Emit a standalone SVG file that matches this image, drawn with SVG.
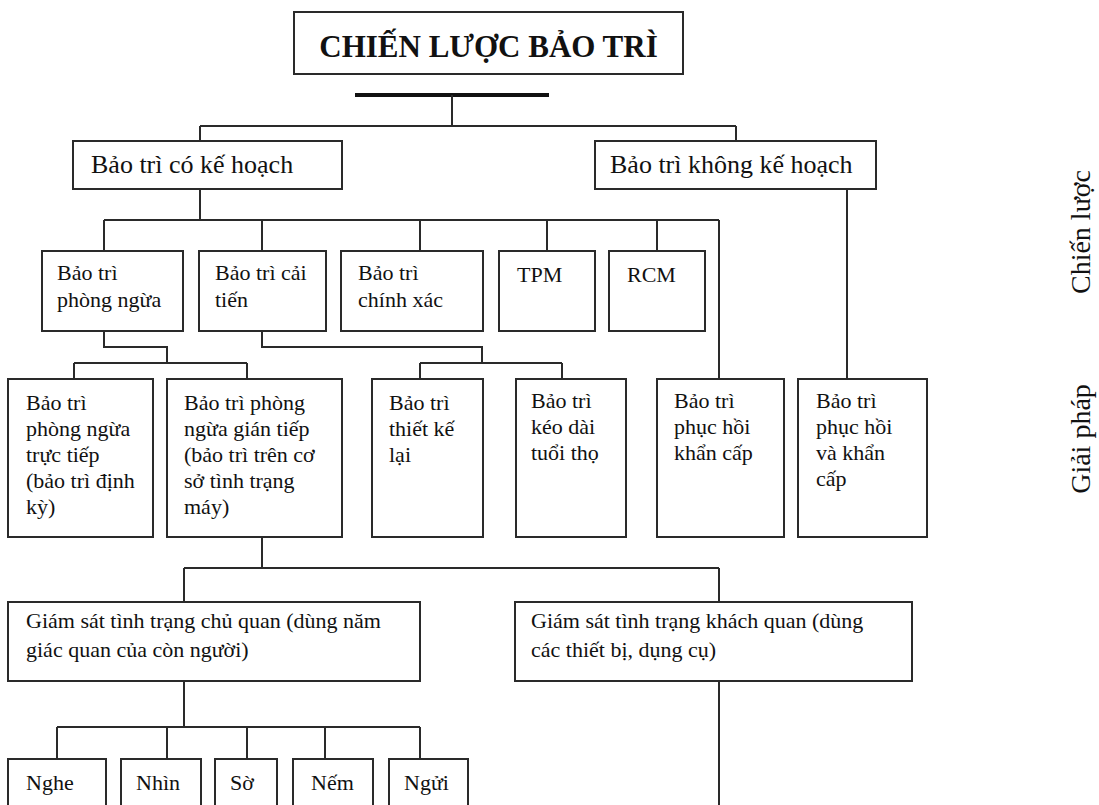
<svg xmlns="http://www.w3.org/2000/svg" width="1099" height="805" viewBox="0 0 1099 805">
<style>
  .box { fill: #ffffff; stroke: #2a2a2a; stroke-width: 2; }
  .ln { fill: none; stroke: #2a2a2a; stroke-width: 2; }
  .t { font-family: "Liberation Serif", "Times New Roman", serif; font-size: 22px; fill: #111; }
  .t1 { font-family: "Liberation Serif", "Times New Roman", serif; font-size: 26px; fill: #111; }
  .title { font-family: "Liberation Serif", "Times New Roman", serif; font-size: 31px; font-weight: bold; fill: #111; }
  .side { font-family: "Liberation Serif", "Times New Roman", serif; font-size: 28px; fill: #111; }
</style>
<rect width="1099" height="805" fill="#ffffff"/>

<g id="connectors">
  <line x1="355" y1="95" x2="549" y2="95" stroke="#111" stroke-width="4"/>
  <path class="ln" d="M452 95 V126 M200 126 H736 M200 126 V141 M736 126 V141"/>
  <path class="ln" d="M200 189 V220 M104 220 H719 M104 220 V251 M262 220 V251 M420 220 V251 M547 220 V251 M657 220 V251 M719 220 V379"/>
  <path class="ln" d="M847 189 V379"/>
  <path class="ln" d="M104 331 V347 H167 V363 M74 363 H247 M74 363 V379 M247 363 V379"/>
  <path class="ln" d="M262 331 V347 H482 V363 M420 363 H562 M420 363 V379 M562 363 V379"/>
  <path class="ln" d="M262 537 V568 M184 568 H719 M184 568 V602 M719 568 V602"/>
  <path class="ln" d="M719 681 V805"/>
  <path class="ln" d="M184 681 V727 M57 727 H420 M57 727 V759 M167 727 V759 M247 727 V759 M325 727 V759 M420 727 V759"/>
</g>

<g id="title">
  <rect class="box" x="294" y="12" width="389" height="62"/>
  <text class="title" x="488.5" y="57" text-anchor="middle">CHIẾN LƯỢC BẢO TRÌ</text>
</g>

<g id="planned">
  <rect class="box" x="73" y="141" width="269" height="48"/>
  <text class="t1" x="91" y="173">Bảo trì có kế hoạch</text>
</g>
<g id="unplanned">
  <rect class="box" x="595" y="141" width="281" height="48"/>
  <text class="t1" x="610" y="173">Bảo trì không kế hoạch</text>
</g>

<g id="preventive">
  <rect class="box" x="42" y="251" width="141" height="80"/>
  <text class="t" x="57" y="280">Bảo trì</text>
  <text class="t" x="57" y="307">phòng ngừa</text>
</g>
<g id="improvement">
  <rect class="box" x="199" y="251" width="127" height="80"/>
  <text class="t" x="215" y="280">Bảo trì cải</text>
  <text class="t" x="215" y="307">tiến</text>
</g>
<g id="precision">
  <rect class="box" x="341" y="251" width="142" height="80"/>
  <text class="t" x="358" y="280">Bảo trì</text>
  <text class="t" x="358" y="307">chính xác</text>
</g>
<g id="tpm">
  <rect class="box" x="499" y="251" width="96" height="80"/>
  <text class="t" x="517" y="282">TPM</text>
</g>
<g id="rcm">
  <rect class="box" x="609" y="251" width="96" height="80"/>
  <text class="t" x="627" y="282">RCM</text>
</g>

<g id="direct">
  <rect class="box" x="8" y="379" width="145" height="158"/>
  <text class="t" x="26" y="410">Bảo trì</text>
  <text class="t" x="26" y="436">phòng ngừa</text>
  <text class="t" x="26" y="462">trực tiếp</text>
  <text class="t" x="26" y="488">(bảo trì  định</text>
  <text class="t" x="26" y="514">kỳ)</text>
</g>
<g id="indirect">
  <rect class="box" x="167" y="379" width="175" height="158"/>
  <text class="t" x="184" y="410">Bảo trì phòng</text>
  <text class="t" x="184" y="436">ngừa gián tiếp</text>
  <text class="t" x="184" y="462">(bảo trì trên cơ</text>
  <text class="t" x="184" y="488">sở tình trạng</text>
  <text class="t" x="184" y="514">máy)</text>
</g>
<g id="redesign">
  <rect class="box" x="372" y="379" width="111" height="158"/>
  <text class="t" x="389" y="410">Bảo trì</text>
  <text class="t" x="389" y="436">thiết kế</text>
  <text class="t" x="389" y="462">lại</text>
</g>
<g id="lifeext">
  <rect class="box" x="516" y="379" width="110" height="158"/>
  <text class="t" x="531" y="408">Bảo trì</text>
  <text class="t" x="531" y="434">kéo dài</text>
  <text class="t" x="531" y="460">tuổi thọ</text>
</g>
<g id="emergency">
  <rect class="box" x="657" y="379" width="127" height="158"/>
  <text class="t" x="674" y="408">Bảo trì</text>
  <text class="t" x="674" y="434">phục hồi</text>
  <text class="t" x="674" y="460">khẩn cấp</text>
</g>
<g id="restore">
  <rect class="box" x="798" y="379" width="129" height="158"/>
  <text class="t" x="816" y="408">Bảo trì</text>
  <text class="t" x="816" y="434">phục hồi</text>
  <text class="t" x="816" y="460">và khẩn</text>
  <text class="t" x="816" y="486">cấp</text>
</g>

<g id="subjective">
  <rect class="box" x="8" y="602" width="412" height="79"/>
  <text class="t" x="26" y="628">Giám  sát tình trạng chủ quan (dùng năm</text>
  <text class="t" x="26" y="657">giác quan của còn người)</text>
</g>
<g id="objective">
  <rect class="box" x="515" y="602" width="397" height="79"/>
  <text class="t" x="531" y="628">Giám  sát tình trạng khách quan (dùng</text>
  <text class="t" x="531" y="657">các thiết bị, dụng cụ)</text>
</g>

<g id="hear">
  <rect class="box" x="8" y="759" width="98" height="70"/>
  <text class="t" x="26" y="790">Nghe</text>
</g>
<g id="see">
  <rect class="box" x="121" y="759" width="80" height="70"/>
  <text class="t" x="136" y="790">Nhìn</text>
</g>
<g id="touch">
  <rect class="box" x="215" y="759" width="62" height="70"/>
  <text class="t" x="230" y="790">Sờ</text>
</g>
<g id="taste">
  <rect class="box" x="293" y="759" width="80" height="70"/>
  <text class="t" x="311" y="790">Nếm</text>
</g>
<g id="smell">
  <rect class="box" x="389" y="759" width="79" height="70"/>
  <text class="t" x="404" y="790">Ngửi</text>
</g>

<g id="labels">
  <text class="side" transform="translate(1090 232) rotate(-90)" text-anchor="middle">Chiến lược</text>
  <text class="side" transform="translate(1090 439) rotate(-90)" text-anchor="middle">Giải pháp</text>
</g>
</svg>
